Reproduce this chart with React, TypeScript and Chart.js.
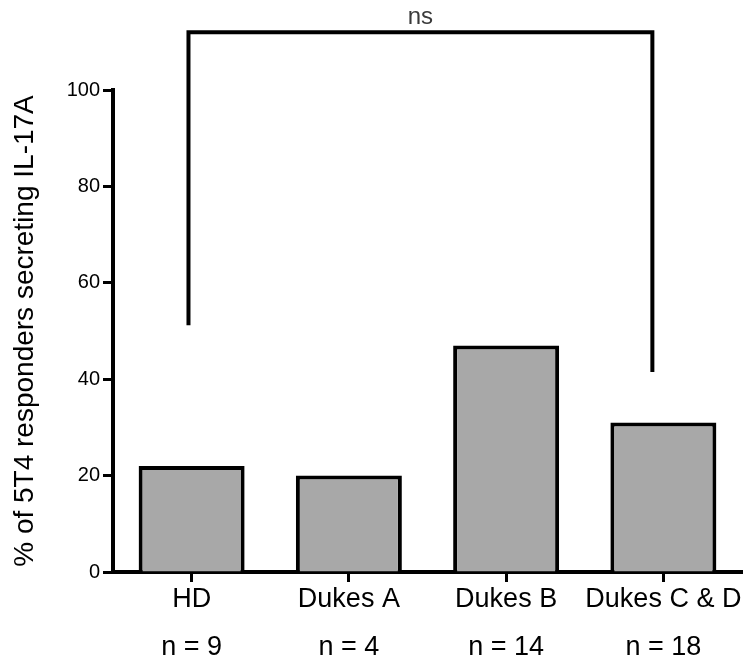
import React, { useEffect, useRef } from "react";
import { Chart, registerables } from "chart.js";

Chart.register(...registerables);

const categories = ["HD", "Dukes A", "Dukes B", "Dukes C & D"];
const sampleSizes = ["n = 9", "n = 4", "n = 14", "n = 18"];
const values = [22, 20, 47, 31];
const yTicks = [0, 20, 40, 60, 80, 100];
const yTitle = "% of 5T4 responders secreting IL-17A";
// significance bracket: [category position, bottom value] for each leg, plus top value
const bracketLegs = [
  [-0.02, 51.2],
  [2.93, 41.5],
];
const bracketTop = 112;
const bracketLabel = "ns";

const FONT = "'Liberation Sans', Arial, Helvetica, sans-serif";

const bracketPlugin = {
  id: "bracket",
  afterDraw(chart: any) {
    const { ctx, scales } = chart;
    const x = scales.x;
    const y = scales.y;
    const x1 = x.getPixelForValue(bracketLegs[0][0]);
    const x2 = x.getPixelForValue(bracketLegs[1][0]);
    const yTop = y.getPixelForValue(bracketTop);
    ctx.save();
    ctx.strokeStyle = "#000";
    ctx.lineWidth = 4;
    ctx.lineJoin = "miter";
    ctx.beginPath();
    ctx.moveTo(x1, y.getPixelForValue(bracketLegs[0][1]));
    ctx.lineTo(x1, yTop);
    ctx.lineTo(x2, yTop);
    ctx.lineTo(x2, y.getPixelForValue(bracketLegs[1][1]));
    ctx.stroke();
    ctx.fillStyle = "#3a3a3a";
    ctx.font = `24px ${FONT}`;
    ctx.textAlign = "center";
    ctx.textBaseline = "alphabetic";
    ctx.fillText(bracketLabel, (x1 + x2) / 2, yTop - 8);
    ctx.restore();
  },
};

export default function App() {
  const ref = useRef<HTMLCanvasElement | null>(null);

  useEffect(() => {
    if (!ref.current) return;
    const labels = categories.map((c, i) => [c, sampleSizes[i]]);
    const chart = new Chart(ref.current, {
      type: "bar",
      data: {
        labels,
        datasets: [
          {
            data: values,
            backgroundColor: "#a8a8a8",
            borderColor: "#000",
            borderWidth: 4,
            borderSkipped: "start",
            barPercentage: 0.674,
            categoryPercentage: 1,
          },
        ],
      },
      options: {
        animation: false,
        responsive: true,
        maintainAspectRatio: false,
        layout: { padding: { top: 90, right: 5, left: 0, bottom: 0 } },
        plugins: {
          legend: { display: false },
          tooltip: { enabled: false },
        },
        scales: {
          x: {
            offset: true,
            grid: {
              offset: false,
              drawOnChartArea: false,
              drawTicks: true,
              tickLength: 10,
              tickWidth: 3,
              tickColor: "#000",
            },
            border: { display: true, width: 4, color: "#000" },
            ticks: {
              color: "#000",
              padding: -6,
              maxRotation: 0,
              autoSkip: false,
              font: { family: FONT, size: 27, lineHeight: "48px" },
            },
            afterFit: (scale: any) => {
              scale.height = 91;
            },
          },
          y: {
            min: 0,
            max: 100,
            afterBuildTicks: (scale: any) => {
              scale.ticks = yTicks.map((v) => ({ value: v }));
            },
            grid: {
              drawOnChartArea: false,
              drawTicks: true,
              tickLength: 10,
              tickWidth: 3,
              tickColor: "#000",
            },
            border: { display: true, width: 4, color: "#000" },
            ticks: {
              color: "#000",
              padding: 3,
              font: { family: FONT, size: 20 },
            },
            title: {
              display: true,
              text: yTitle,
              color: "#000",
              padding: { top: 8, bottom: 0 },
              font: { family: FONT, size: 28 },
            },
            afterFit: (scale: any) => {
              scale.width = 113;
            },
          },
        },
      },
      plugins: [bracketPlugin],
    });
    return () => chart.destroy();
  }, []);

  return (
    <div style={{ position: "fixed", left: 0, top: 0, width: 747, height: 663, background: "#fff" }}>
      <canvas ref={ref} />
    </div>
  );
}
